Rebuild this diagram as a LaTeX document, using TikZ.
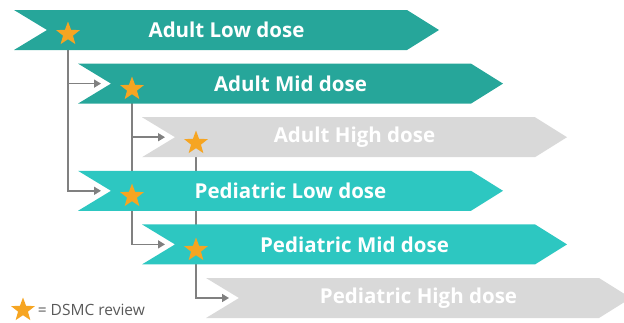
\documentclass[tikz,border=0pt]{standalone}
\usepackage{fontspec}
\setmainfont{Open Sans}
\usetikzlibrary{shapes.geometric,arrows.meta,positioning,backgrounds}

\definecolor{adultteal}{HTML}{26A69A}
\definecolor{pedteal}{HTML}{2DC7C1}
\definecolor{highgray}{HTML}{D9D9D9}
\definecolor{linkgray}{HTML}{808080}
\definecolor{starorange}{HTML}{F6A522}
\definecolor{keygray}{HTML}{595959}

% one dose cohort: style, left edge, top edge, name, text
\newcommand{\dosebar}[5]{%
  \fill[#1] (#2,#3) -- ++(393,0) -- ++(32,20) -- ++(-32,20) -- ++(-393,0) -- ++(33,-20) -- cycle;
  \node[bartext] (#4) at ({#2+212.5},{#3+20}) {#5};
  \coordinate (#4-in) at ({#2+23},{#3+20});
}

\begin{document}
\begin{tikzpicture}[x=1pt,y=-1pt,
    bartext/.style={text=white,font=\bfseries\fontsize{20.5}{22}\selectfont},
    dsmc/.style={star,star points=5,star point ratio=2.4,fill=starorange,
      minimum size=25pt,inner sep=0pt},
    link/.style={draw=linkgray,line width=1.6pt,-{Triangle[length=7pt,width=8pt]}},
    keytext/.style={text=keygray,font=\fontsize{15.5}{17}\selectfont}]
  \useasboundingbox (0,0) rectangle (624,322);
  \clip (0,0) rectangle (624,322);
  % adult cohorts
  \dosebar{adultteal}{14}{10}{alow}{Adult Low dose}
  \dosebar{adultteal}{78}{63.6}{amid}{Adult Mid dose}
  \dosebar{highgray}{142}{117.2}{ahigh}{Adult High dose}
  % pediatric cohorts
  \dosebar{pedteal}{78}{170.8}{plow}{Pediatric Low dose}
  \dosebar{pedteal}{142}{224.4}{pmid}{Pediatric Mid dose}
  \dosebar{highgray}{206}{278}{phigh}{Pediatric High dose}
  % review points
  \node[dsmc] (alow-star) at (68,34) {};
  \node[dsmc] (amid-star) at (132,89) {};
  \node[dsmc] (ahigh-star) at (196,143) {};
  \node[dsmc] (plow-star) at (132,196) {};
  \node[dsmc] (pmid-star) at (196,250) {};
  % escalation paths, behind the bars
  \begin{scope}[on background layer]
    \draw[link] (alow-star.center) |- (plow-in);
    \draw[link] (alow-star.center |- amid-in) -- (amid-in);
    \draw[link] (amid-star.center) |- (pmid-in);
    \draw[link] (amid-star.center |- ahigh-in) -- (ahigh-in);
    \draw[link] (ahigh-star.center) |- (phigh-in);
  \end{scope}
  % legend
  \node[dsmc] (key) at (23,310) {};
  \node[keytext,right=4pt of key] (keylabel) {= DSMC review};
\end{tikzpicture}
\end{document}
